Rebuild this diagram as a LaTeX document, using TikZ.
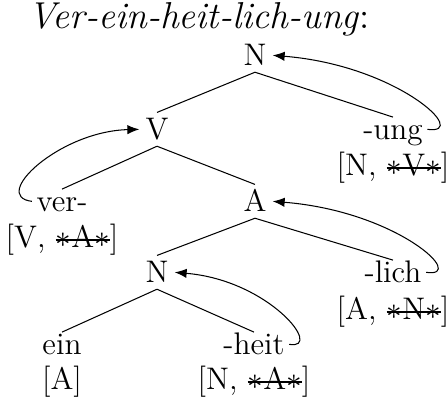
\documentclass[tikz,border=0pt]{standalone}
\usetikzlibrary{arrows.meta}
\newsavebox{\strkbox}
\newcommand{\strk}[1]{\sbox{\strkbox}{#1}\rlap{\rule[2.7pt]{\wd\strkbox}{0.8pt}}\usebox{\strkbox}}
\newcommand{\strkst}[1]{\strk{$\ast$#1$\ast$}}
\begin{document}
\begin{tikzpicture}[x=0.3846pt,y=-0.3846pt,
  every node/.style={font=\fontsize{12}{14.5}\selectfont},
  cat/.style={inner sep=0pt, text height=8.2pt, text depth=0pt, outer xsep=2.4pt, outer ysep=2.4pt, anchor=base},
  leaf/.style={inner sep=0pt, text height=8.2pt, text depth=0pt, outer xsep=1.8pt, outer ysep=0.6pt, anchor=base},
  feat/.style={inner sep=0pt, anchor=base},
  ttl/.style={inner sep=0pt, anchor=base west, font=\fontsize{14.4}{17}\selectfont},
  branch/.style={line width=0.4pt},
  mv/.style={-{Latex[length=4.6pt,width=3.6pt]}, line width=0.4pt}]
\useasboundingbox (0,0) rectangle (446,400);
\node[ttl] (title) at (28,29) {\textit{Ver-ein-heit-lich-ung}:};
\node[cat] (n0) at (255,66) {N};
\node[cat] (v) at (157,140) {V};
\node[leaf] (ung) at (393,140) {-ung};
\node[feat] (ungf) at (393,176) {[N, \strkst{V}]};
\node[leaf] (ver) at (62,212) {ver-};
\node[feat] (verf) at (62,248) {[V, \strkst{A}]};
\node[cat] (a) at (255,212) {A};
\node[cat] (n1) at (157,283) {N};
\node[leaf] (lich) at (393,283) {-lich};
\node[feat] (lichf) at (393,320) {[A, \strkst{N}]};
\node[leaf] (ein) at (62,355) {ein};
\node[feat] (einf) at (62,390) {[A]};
\node[leaf] (heit) at (254,355) {-heit};
\node[feat] (heitf) at (254,390) {[N, \strkst{A}]};
\draw[branch] (n0.south) -- (v.north);
\draw[branch] (n0.south) -- (ung.north);
\draw[branch] (v.south) -- (ver.north);
\draw[branch] (v.south) -- (a.north);
\draw[branch] (a.south) -- (n1.north);
\draw[branch] (a.south) -- (lich.north);
\draw[branch] (n1.south) -- (ein.north);
\draw[branch] (n1.south) -- (heit.north);
\draw[mv] (ung.east) .. controls +(44,6) and +(125,10) .. (n0.east);
\draw[mv] (lich.east) .. controls +(42,6) and +(125,10) .. (a.east);
\draw[mv] (heit.east) .. controls +(35,6) and +(95,8) .. (n1.east);
\draw[mv] (ver.west) .. controls +(-42,-5) and +(-80,2) .. (v.west);
\end{tikzpicture}
\end{document}
